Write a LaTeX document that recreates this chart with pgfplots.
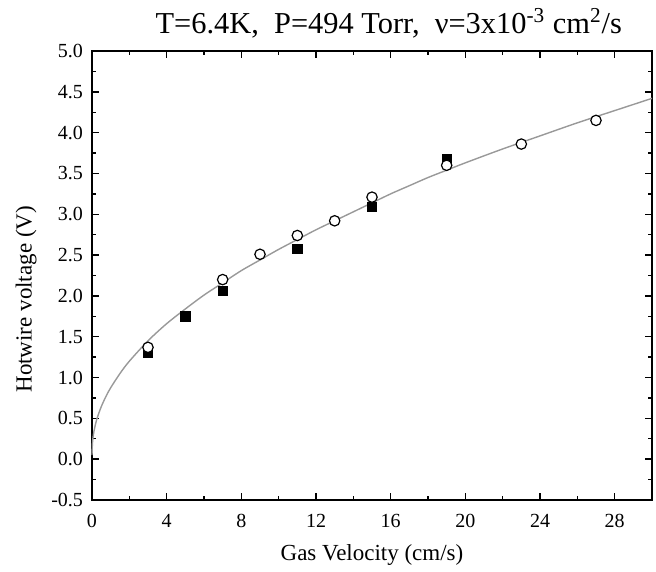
\documentclass[border=0pt]{standalone}
\usepackage{pgfplots}
\pgfplotsset{compat=1.18}
\usepackage{fontspec}
\setmainfont{Liberation Serif}
\definecolor{fitgray}{rgb}{0.6,0.6,0.6}

\begin{document}
\begin{tikzpicture}
\begin{axis}[
    scale only axis,
    width=280pt, height=224.5pt,
    xmin=0, xmax=30,
    ymin=-0.5, ymax=5.0,
    xtick={0,4,...,28},
    ytick={-0.5,0,...,5.0},
    minor x tick num=1,
    minor y tick num=1,
    tick align=inside,
    major tick length=3.5pt,
    minor tick length=2pt,
    axis line style={line width=0.9pt},
    every tick/.style={black, line width=0.7pt},
    tick label style={font=\fontsize{10}{12}\selectfont},
    /pgf/number format/assume math mode=true,
    yticklabel style={xshift=-1pt, /pgf/number format/.cd, fixed, fixed zerofill, precision=1},
    xticklabel style={yshift=-3.5pt},
    xlabel={Gas Velocity (cm/s)},
    ylabel={Hotwire voltage (V)},
    label style={font=\fontsize{11.5}{13}\selectfont},
    xlabel style={yshift=-1.5pt},
    ylabel style={at={(ticklabel cs:0.447)}, yshift=0.5pt},
    clip=false,
]
% fitted curve
\addplot[fitgray, line width=0.7pt, smooth] coordinates {
    (0.0,0.05) (0.02,0.18) (0.05,0.255) (0.1,0.335) (0.2,0.44) (0.3,0.52)
    (0.5,0.645) (0.75,0.77) (1,0.875) (1.5,1.05) (2,1.20) (3,1.45)
    (4,1.66) (5,1.84) (6,2.01) (7,2.16) (8,2.31) (9,2.44) (10,2.57)
    (11,2.69) (12,2.81) (13,2.92) (14,3.03) (15,3.14) (16,3.25)
    (17,3.35) (18,3.45) (19,3.54) (20,3.63) (22,3.80) (24,3.96)
    (26,4.12) (28,4.27) (30,4.42)
};
% filled squares
\addplot[only marks, mark=square*, mark size=2.3pt, mark options={fill=black, draw=black}] coordinates {
    (3,1.30) (5,1.75) (7,2.06) (11,2.58) (15,3.09) (19,3.68)
};
% open circles
\addplot[only marks, mark=*, mark size=2.6pt, mark options={fill=white, draw=black, line width=0.6pt}] coordinates {
    (3,1.37) (7,2.20) (9,2.51) (11,2.74) (13,2.92) (15,3.21) (19,3.60) (23,3.86) (27,4.15)
};
\node[anchor=base, font=\fontsize{15.2}{17}\selectfont] at (rel axis cs:0.53,1.04)
    {T=6.4K,\ \ P=494 Torr,\ \ ν=3x10\textsuperscript{-3} cm\textsuperscript{2}/s};
% margins as in the reference
\path (rel axis cs:0,0) ++(-46pt,-34.5pt);
\path (rel axis cs:1,1) ++(2pt,25.5pt);
\end{axis}
\end{tikzpicture}
\end{document}
